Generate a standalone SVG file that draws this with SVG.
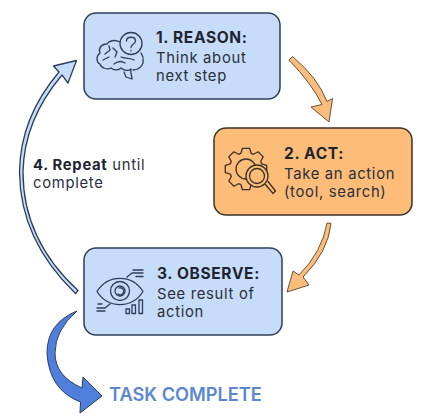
<svg xmlns="http://www.w3.org/2000/svg" width="423" height="420" viewBox="0 0 423 420">
<style>
text{font-family:Inter,"Noto Sans","Liberation Sans",sans-serif;fill:#2a2f3a;font-size:14.800px;letter-spacing:.7px}
.h{font-weight:700;fill:#1f2430;font-size:15.500px;letter-spacing:.65px}
.blue{fill:#c6dcf9;stroke:#2c3e5a;stroke-width:1.500}
.orange{fill:#fdbc78;stroke:#3b3227;stroke-width:1.500}
.ic{fill:none;stroke:#2c3e5a;stroke-width:1.300;stroke-linecap:round;stroke-linejoin:round}
.ico{fill:none;stroke:#3b3227;stroke-width:1.300;stroke-linecap:round;stroke-linejoin:round}
.oa{fill:#fbbd7c;stroke:#6b5036;stroke-width:1;stroke-linejoin:round}
.ba{fill:#c6dcf9;stroke:#2c3e5a;stroke-width:1.300;stroke-linejoin:round}
</style>
<rect width="423" height="420" fill="#fff"/>
<g id="connectors">
<path class="oa" d="M289 60L292.500 56.500Q318 78 327 101.500L332.500 98.500L329 122L311 107L322 104.500Q312 84 289 60Z"/>
<path class="oa" d="M327 223L331 223.500Q328 252 303 277L309 285L287 292L293 271L299 275Q322 252 327 223Z"/>
<path class="ba" d="M75.500 293.500L78 290.500Q23 240 23 172Q24 120 62 75L68 83L76.500 60.500L53.500 66L59 72Q20 118 19.500 172Q20 240 75.500 293.500Z"/>
<path d="M77 311Q47 323 47 353Q49 390 80.500 402L80 413L102 396L83 377L82 388Q55 376 55 353Q55 330 77 311Z" fill="#4f7fdc" stroke="#2c3e5a" stroke-width="1" stroke-linejoin="round"/>
</g>
<g id="node-reason">
<rect class="blue" x="84" y="13" width="196" height="86" rx="12"/>
<g class="ic">
<path d="M120 42C114 39 109 41 107 44C101 44 98 49 100 53C96 56 96 62 100 64C101 68 107 70 111 68C114 71 119 70 121 68C124 71 129 71 131 69C130 73 132 75 132 79L126 77L124 72"/>
<path d="M133 70C139 70 144 65 143 60C144 57 142 55 141 53"/>
<circle cx="131" cy="43.500" r="11"/>
<path d="M126.500 41C126.500 36 135.500 36 135.500 41C135.500 44 131 44 131 47.500M131 50.500v.5"/>
<path d="M105 54L110 50L109 46M103 60L109 57M113 48L117 52L115 57M114 64C118 61 122 61 125 63M121 57C126 59 131 58 134 60"/>
</g>
<text class="h" x="156" y="43">1. REASON:</text>
<text x="156" y="63">Think about</text>
<text x="156" y="81">next step</text>
</g>
<g id="node-act">
<rect class="orange" x="214" y="128" width="198" height="87" rx="12"/>
<g class="ico">
<path transform="translate(246 169)" d="M-5.100-15.700L-3.600-20.700L3.600-20.700L5.100-15.700L7.500-14.700L12.100-17.200L17.200-12.100L14.700-7.500L15.700-5.100L20.700-3.600L20.700 3.600L15.700 5.100L14.700 7.500L17.200 12.100L12.100 17.200L7.500 14.700L5.100 15.700L3.600 20.700L-3.600 20.700L-5.100 15.700L-7.500 14.700L-12.100 17.200L-17.200 12.100L-14.700 7.500L-15.700 5.100L-20.700 3.600L-20.700-3.600L-15.700-5.100L-14.700-7.500L-17.200-12.100L-12.100-17.200L-7.500-14.700Z"/>
<circle cx="246" cy="169" r="10"/>
<circle cx="257" cy="176" r="11" fill="#fdbc78"/>
<circle cx="257" cy="176" r="7.500"/>
<path d="M265 184L273 193.500L275.500 191L268 181.500" fill="#fdbc78"/>
</g>
<text class="h" x="284" y="159">2. ACT:</text>
<text x="284" y="179">Take an action</text>
<text x="284" y="197">(tool, search)</text>
</g>
<g id="node-observe">
<rect class="blue" x="84" y="248" width="198" height="87" rx="12"/>
<g class="ic">
<path d="M97 291.500C108 274 132 274 143 291.500C132 309 108 309 97 291.500Z"/>
<circle cx="120" cy="291" r="9.500"/>
<circle cx="120" cy="291" r="5"/>
<path d="M119 288a3.500 3.500 0 1 1 -1 6"/>
<path d="M127 277L132 273H143M133 270H143M136 276.500H143M110 304L105 308H97M97 311H105M98 304H102"/>
<rect x="126" y="309" width="3.500" height="4.500"/>
<rect x="132" y="305" width="3.500" height="8.500"/>
<rect x="139" y="300" width="3.500" height="13.500"/>
</g>
<text class="h" x="157" y="279">3. OBSERVE:</text>
<text x="157" y="299">See result of</text>
<text x="157" y="317">action</text>
</g>
<g id="label-repeat">
<text x="33" y="170"><tspan font-weight="700" fill="#1f2430">4. Repeat</tspan> until</text>
<text x="33" y="188">complete</text>
</g>
<g id="label-complete">
<text x="109" y="401" style="font-weight:600;font-size:18.200px;letter-spacing:0;fill:#5d86d2">TASK COMPLETE</text>
</g>
</svg>
